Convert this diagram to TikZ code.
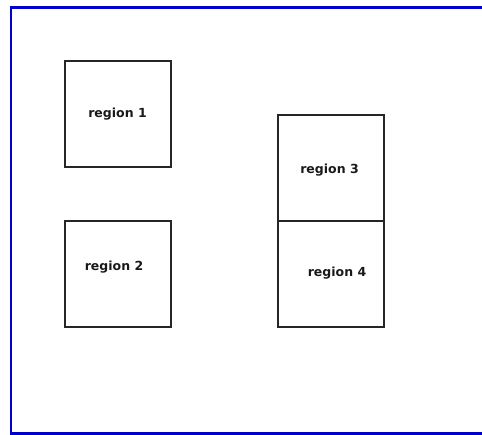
\documentclass[tikz,border=0pt]{standalone}
\usepackage{fontspec}
\setmainfont{DejaVu Sans}
\usepackage{tikz}
\usetikzlibrary{positioning}

\tikzset{
    regionbox/.style={draw=black!85, line width=2pt, minimum size=106pt, inner sep=0pt},
    regionlabel/.style={font=\fontsize{12.5}{14}\selectfont\bfseries, text=black!90, inner sep=0pt}
}

\begin{document}
\begin{tikzpicture}[x=1pt, y=-1pt]
    \useasboundingbox (0,0) rectangle (482,435);
    \clip (0,0) rectangle (482,435);
    \draw[blue!80!black, line width=2.8pt] (11,7.5) rectangle (490,433.5);

    \node[regionbox] (box1) at (117.5,114.5) {};
    \node[regionbox] (box2) at (117.5,274.5) {};
    \node[regionbox] (box3) at (330.5,168) {};
    \node[regionbox, below=-2pt of box3] (box4) {};

    \node[regionlabel] (lab1) at ([shift={(0,0)}]box1.center) {region 1};
    \node[regionlabel] (lab2) at ([shift={(-3.5,-7.5)}]box2.center) {region 2};
    \node[regionlabel] (lab3) at ([shift={(-1,2)}]box3.center) {region 3};
    \node[regionlabel] (lab4) at ([shift={(6.5,-0.5)}]box4.center) {region 4};
\end{tikzpicture}
\end{document}
